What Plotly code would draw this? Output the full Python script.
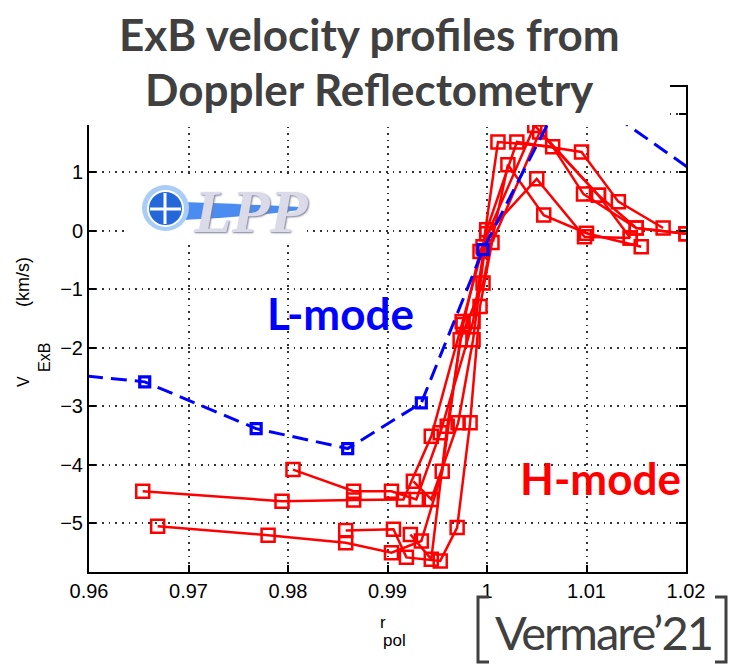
import plotly.graph_objects as go

# ---------------------------------------------------------------
# Radial ExB velocity profiles (Doppler reflectometry)
# r_pol : normalised poloidal-flux radius, v : ExB velocity [km/s]
# ---------------------------------------------------------------

# L-mode profile (blue, dashed)
lmode_r = [0.9550, 0.9656, 0.9768, 0.9860, 0.9934, 0.9996, 1.0082, 1.0230]
lmode_v = [-2.40, -2.58, -3.38, -3.72, -2.94, -0.32, 2.52, 0.75]

# H-mode profiles (red, solid)
hmode1_r = [0.9654, 0.9794, 0.9866, 0.9916, 0.9944, 0.9975, 0.9996, 1.0011, 1.0066, 1.0097, 1.0150, 1.0200]
hmode1_v = [-4.45, -4.62, -4.60, -4.59, -3.51, -1.55, -0.27, 1.52, 1.44, 0.63, 0.05, -0.05]

hmode2_r = [0.9669, 0.9780, 0.9858, 0.9904, 0.9934, 0.9955, 0.9973, 0.9996, 1.0021, 1.0057, 1.0100, 1.0155]
hmode2_v = [-5.05, -5.20, -5.33, -5.50, -5.30, -4.11, -1.86, -0.89, 1.13, 0.27, -0.04, -0.27]

hmode3_r = [0.9805, 0.9866, 0.9904, 0.9929, 0.9953, 0.9986, 0.99997, 1.0030, 1.0095, 1.0132, 1.0177]
hmode3_v = [-4.08, -4.45, -4.45, -4.59, -3.45, -1.55, 0.02, 1.52, 1.35, 0.50, 0.05]

hmode4_r = [0.9858, 0.9906, 0.9919, 0.9953, 0.9970, 0.9983, 0.9993, 1.0005, 1.0053, 1.0112, 1.0144]
hmode4_v = [-5.12, -5.10, -5.58, -5.64, -5.07, -3.28, -1.29, -0.20, 1.69, 0.61, -0.12]

hmode5_r = [0.9926, 0.9944, 0.9971, 0.9986, 0.99997, 1.0050, 1.0098, 1.0144]
hmode5_v = [-4.28, -4.59, -3.28, -1.86, -0.05, 0.89, -0.10, -0.12]

hmode6_r = [0.9923, 0.9944, 0.9960, 0.9976, 0.9993, 1.0048, 1.0112, 1.0150, 1.0200]
hmode6_v = [-5.19, -5.61, -3.34, -1.60, -0.35, 1.80, 0.61, 0.05, -0.05]

hmode_profiles = [
    (hmode1_r, hmode1_v),
    (hmode2_r, hmode2_v),
    (hmode3_r, hmode3_v),
    (hmode4_r, hmode4_v),
    (hmode5_r, hmode5_v),
    (hmode6_r, hmode6_v),
]

x_ticks = [0.96, 0.97, 0.98, 0.99, 1.00, 1.01, 1.02]
x_tick_labels = ["0.96", "0.97", "0.98", "0.99", "1", "1.01", "1.02"]
y_ticks = [-5, -4, -3, -2, -1, 0, 1, 2]

x_range = [0.96, 1.02]
y_range = [-5.83, 2.46]

# ---------------------------------------------------------------
# page geometry (pixels) and helpers to place decorations
# ---------------------------------------------------------------
FIG_W, FIG_H = 730, 665
M_L, M_R, M_T, M_B = 89, 44, 87, 93
PW = FIG_W - M_L - M_R
PH = FIG_H - M_T - M_B


def px(x):
    return (x - M_L) / PW


def py(y):
    return (FIG_H - M_B - y) / PH


RED = "#ff0000"
BLUE = "#0000ff"
GREY = "#404040"
AX_FONT = "Liberation Sans, Arial, sans-serif"

fig = go.Figure()

for r, v in hmode_profiles:
    fig.add_trace(go.Scatter(
        x=r, y=v, mode="lines+markers",
        line=dict(color=RED, width=2.5),
        marker=dict(symbol="square-open", size=13, color=RED,
                    line=dict(color=RED, width=2.5)),
        showlegend=False, hoverinfo="skip",
    ))

fig.add_trace(go.Scatter(
    x=lmode_r, y=lmode_v, mode="lines+markers",
    line=dict(color=BLUE, width=3, dash="16px,8px"),
    marker=dict(symbol="square-open", size=10, color=BLUE,
                line=dict(color=BLUE, width=3.2)),
    showlegend=False, hoverinfo="skip",
))

axis_common = dict(
    showline=True, linecolor="black", linewidth=2, mirror="ticks",
    ticks="inside", ticklen=7, tickwidth=1.5, tickcolor="black",
    showgrid=True, gridcolor="#333333", gridwidth=1.6, griddash="1.6px,5px",
    zeroline=False, automargin=False,
    tickfont=dict(family=AX_FONT, size=20, color="black"),
)

fig.update_xaxes(range=x_range, tickvals=x_ticks, ticktext=x_tick_labels, **axis_common)
fig.update_yaxes(range=y_range, tickvals=y_ticks, **axis_common)

shapes = []
# white band carrying the headline
shapes.append(dict(type="rect", xref="paper", yref="paper", layer="above",
                   x0=px(-5), x1=px(670), y0=py(125), y1=py(-5),
                   fillcolor="white", line=dict(width=0)))
# LPP logo: white backing, glowing disc with cross, blue tail
shapes.append(dict(type="rect", xref="paper", yref="paper", layer="above",
                   x0=px(125), x1=px(305), y0=py(243), y1=py(178),
                   fillcolor="white", line=dict(width=0)))
tail = "M {},{} Q {},{} {},{} L {},{} Q {},{} {},{} Z".format(
    px(182), py(202), px(240), py(204), px(300), py(207),
    px(300), py(210), px(240), py(218), px(182), py(220))
shapes.append(dict(type="path", xref="paper", yref="paper", layer="above",
                   path=tail, fillcolor="#4a8cf0", line=dict(width=0)))
shapes.append(dict(type="circle", xref="paper", yref="paper", layer="above",
                   x0=px(142), x1=px(189), y0=py(231), y1=py(185),
                   fillcolor="#a9cdf6", line=dict(width=0)))
shapes.append(dict(type="circle", xref="paper", yref="paper", layer="above",
                   x0=px(148), x1=px(183), y0=py(226), y1=py(191),
                   fillcolor="#2467d8", line=dict(color="white", width=2)))
shapes.append(dict(type="line", xref="paper", yref="paper", layer="above",
                   x0=px(165), x1=px(165), y0=py(224), y1=py(193),
                   line=dict(color="white", width=3)))
shapes.append(dict(type="line", xref="paper", yref="paper", layer="above",
                   x0=px(150), x1=px(181), y0=py(209), y1=py(209),
                   line=dict(color="white", width=3)))
# citation brackets
lb = "M {},{} L {},{} L {},{} L {},{}".format(
    px(489), py(597), px(478), py(597), px(478), py(662), px(489), py(662))
rb = "M {},{} L {},{} L {},{} L {},{}".format(
    px(715), py(597), px(726), py(597), px(726), py(662), px(715), py(662))
for p in (lb, rb):
    shapes.append(dict(type="path", xref="paper", yref="paper", layer="above",
                       path=p, line=dict(color=GREY, width=3)))

annotations = [
    dict(text="<b>ExB velocity profiles from</b>", x=px(369), y=py(34),
         font=dict(family="Lato", size=44, color=GREY)),
    dict(text="<b>Doppler Reflectometry</b>", x=px(369), y=py(89),
         font=dict(family="Lato", size=44, color=GREY)),
    dict(text="<b>L-mode</b>", x=px(340), y=py(313),
         font=dict(family="Lato", size=44, color=BLUE)),
    dict(text="<b>H-mode</b>", x=px(600), y=py(478),
         font=dict(family="Lato", size=44, color=RED)),
    dict(text="<span style='letter-spacing:-2px'>Vermare’21</span>",
         x=px(603), y=py(632),
         font=dict(family="Lato", size=47, color=GREY)),
    dict(text="<b><i>LPP</i></b>", x=px(251), y=py(211),
         font=dict(family="Liberation Serif", size=62, color="#dadae8",
                   shadow="1px 1px 2px #7c7c96")),
    # y-axis label: V_ExB (km/s), rotated
    dict(text="V", x=px(23), y=py(382), textangle=-90,
         font=dict(family=AX_FONT, size=16, color="black")),
    dict(text="ExB", x=px(44), y=py(358), textangle=-90,
         font=dict(family=AX_FONT, size=16, color="black")),
    dict(text="(km/s)", x=px(23), y=py(282), textangle=-90,
         font=dict(family=AX_FONT, size=18, color="black")),
    # x-axis label: r_pol
    dict(text="r", x=px(383), y=py(622),
         font=dict(family=AX_FONT, size=17, color="black")),
    dict(text="pol", x=px(394), y=py(640),
         font=dict(family=AX_FONT, size=17, color="black")),
]
for a in annotations:
    a.update(xref="paper", yref="paper", showarrow=False,
             xanchor="center", yanchor="middle")

fig.update_layout(
    width=FIG_W, height=FIG_H,
    margin=dict(l=M_L, r=M_R, t=M_T, b=M_B, pad=0),
    paper_bgcolor="white", plot_bgcolor="white",
    template="none",
    shapes=shapes, annotations=annotations,
    showlegend=False,
)

fig.write_html("out.html")
